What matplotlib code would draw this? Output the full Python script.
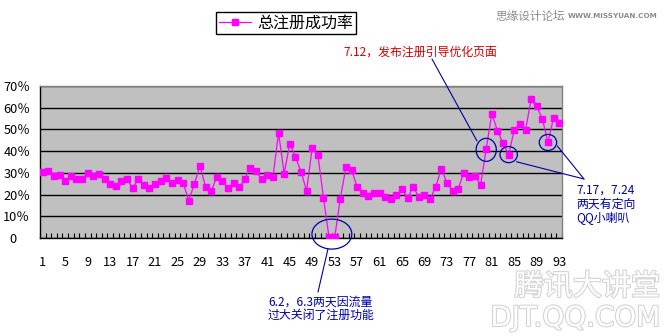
import matplotlib

matplotlib.use("Agg")
import matplotlib.pyplot as plt
import matplotlib.patheffects as pe
from matplotlib.patches import Ellipse

plt.rcParams["font.family"] = ["Noto Sans CJK SC", "DejaVu Sans"]

# daily total registration success rate, %
days = list(range(1, 94))
rate = [
    30.4, 30.7, 28.6, 29.0, 26.1, 28.6, 27.0, 27.0, 29.9, 28.6,
    29.6, 27.2, 25.0, 24.1, 26.4, 27.0, 23.0, 27.2, 24.3, 23.2,
    24.9, 26.1, 27.5, 25.3, 26.9, 25.5, 17.2, 24.9, 33.3, 23.6,
    21.5, 28.2, 26.4, 22.9, 25.5, 23.3, 27.2, 32.4, 30.7, 27.0,
    29.0, 27.9, 48.5, 29.6, 43.4, 37.5, 30.5, 21.8, 41.6, 38.4,
    18.6, 0.3, 0.3, 18.1, 32.5, 31.3, 23.6, 20.6, 19.5, 20.6,
    20.6, 19.0, 18.1, 19.6, 22.4, 18.3, 23.6, 18.7, 19.9, 17.8,
    23.6, 31.9, 25.5, 21.6, 22.7, 30.1, 28.2, 28.4, 24.6, 41.1,
    57.3, 49.4, 43.6, 38.4, 49.9, 52.3, 49.7, 63.9, 60.6, 54.9,
    44.0, 55.4, 53.1,
]
series_name = "总注册成功率"
y_ticks = [0, 10, 20, 30, 40, 50, 60, 70]
y_labels = ["0\u3000"] + [f"{v}％" for v in y_ticks[1:]]
x_ticks = list(range(1, 94, 4))

# annotated days (1-based)
closed_days = [52, 53]
launch_day = 80
qq_days = [84, 91]

W, H = 668, 336
MAGENTA = "#FF00FF"
NAVY = "#0000A8"


def fx(x):
    return x / W


def fy(y):
    return 1 - y / H


fig = plt.figure(figsize=(W / 100, H / 100), dpi=100)
fig.patch.set_facecolor("white")
ax = fig.add_axes([fx(40), fy(238), 522 / W, 152 / H])
ax.set_facecolor("#C0C0C0")

ax.plot(days, rate, color=MAGENTA, lw=0.9, marker="s", ms=4.6, mec=MAGENTA, mfc=MAGENTA,
        zorder=3, label=series_name)

ax.set_xlim(0.5, 93.5)
ax.set_ylim(0, 70)
ax.set_yticks(y_ticks, y_labels)
ax.set_xticks(x_ticks, [str(d) for d in x_ticks])
ax.set_xticks([d + 0.5 for d in range(0, 94)], minor=True)
ax.tick_params(axis="y", length=0, pad=7, labelsize=9.2)
ax.tick_params(axis="x", which="major", length=0, pad=13, labelsize=9.2)
ax.tick_params(axis="x", which="minor", direction="in", length=3.5, width=0.8, color="black")
ax.yaxis.grid(True, color="black", lw=1)
ax.set_axisbelow(True)
for side in ("top", "right"):
    ax.spines[side].set_color("#808080")
for side in ("left", "bottom"):
    ax.spines[side].set_color("black")
for s in ax.spines.values():
    s.set_linewidth(1)
    s.set_zorder(2.5)


# circles around the commented points
def ring(xc, yc, w, h):
    ax.add_patch(Ellipse((xc, yc), w, h, fill=False, ec=NAVY, lw=0.9, zorder=4, clip_on=False))


closed_val = sum(rate[d - 1] for d in closed_days) / len(closed_days)
ring(sum(closed_days) / 2, closed_val + 1.5, 7.1, 13.8)
ring(launch_day, rate[launch_day - 1] - 0.5, 3.6, 10.6)
for d in qq_days:
    ring(d, rate[d - 1], 3.1, 7.4)

line_kw = dict(arrowstyle="-", color=NAVY, lw=0.8, shrinkA=0, shrinkB=0)


def leader(xy, x_px, y_px):
    ax.annotate("", xy=xy, xytext=(x_px, H - y_px), textcoords="figure pixels",
                arrowprops=line_kw, annotation_clip=False)


leader((78.35, 44.7), 432, 59)
leader((85.4, 35.1), 584, 179)
leader((92.66, 42.4), 584, 179)
leader((51.8, -5.1), 318, 292)

ann = 8.6
fig.text(fx(343), fy(52), "7.12，发布注册引导优化页面", color="#D80000", fontsize=ann, va="center")
for i, s in enumerate(["7.17，7.24", "两天有定向", "QQ小喇叭"]):
    fig.text(fx(576), fy(190 + 14 * i), s, color=NAVY, fontsize=ann, va="center")
for i, s in enumerate(["6.2，6.3两天因流量", "过大关闭了注册功能"]):
    fig.text(fx(268), fy(302 + 13 * i), s, color=NAVY, fontsize=ann, va="center")

leg = fig.legend(loc="center", bbox_to_anchor=(fx(286), fy(23)), frameon=True, fancybox=False,
                 edgecolor="black", framealpha=1, fontsize=11.5, handlelength=2.0,
                 borderpad=0.15, handletextpad=0.4, borderaxespad=0)
leg.get_frame().set_linewidth(1)

# site marks
fig.text(fx(495), fy(16), "思缘设计论坛", color="#8C8C8C", fontsize=8.4, va="center")
fig.text(fx(658), fy(16), "WWW.MISSYUAN.COM", color="#8C8C8C", fontsize=5.2, va="center",
         ha="right", family="DejaVu Sans", fontweight="bold")
wm = [pe.withStroke(linewidth=1.6, foreground="#D4D4D4")]
fig.text(fx(660), fy(287), "腾讯大讲堂", color="white", fontsize=21, va="center", ha="right",
         path_effects=wm)
fig.text(fx(660), fy(318), "DJT.QQ.COM", color="white", fontsize=20, va="center", ha="right",
         family="DejaVu Sans", path_effects=wm)

fig.savefig("out.png", dpi=100)
